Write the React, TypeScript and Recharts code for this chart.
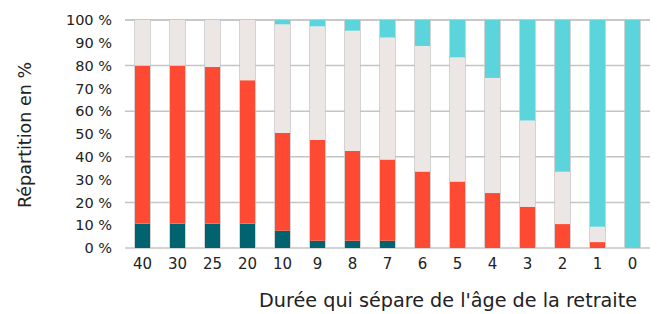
import { BarChart, Bar, XAxis, YAxis, CartesianGrid, Label } from "recharts";

const durations = ["40", "30", "25", "20", "10", "9", "8", "7", "6", "5", "4", "3", "2", "1", "0"];
const darkShare = [10.7, 10.7, 10.7, 10.7, 7.6, 3.2, 3.2, 3.2, 0, 0, 0, 0, 0, 0, 0];
const redShare = [69.3, 69.3, 68.7, 62.9, 42.9, 44.2, 39.3, 35.6, 33.6, 29.2, 24.1, 18.1, 10.5, 2.6, 0];
const greyShare = [20, 20, 20.6, 26.4, 47.6, 49.8, 52.8, 53.5, 55.0, 54.4, 50.5, 37.8, 22.9, 6.7, 0];
const cyanShare = [0, 0, 0, 0, 1.9, 2.8, 4.7, 7.7, 11.4, 16.4, 25.4, 44.1, 66.6, 90.7, 100];
const yTicks = [0, 10, 20, 30, 40, 50, 60, 70, 80, 90, 100];

const data = durations.map((d, i) => ({
  name: d,
  dark: darkShare[i],
  red: redShare[i],
  grey: greyShare[i],
  cyan: cyanShare[i],
}));

const font = "'DejaVu Sans', sans-serif";
const BAR = 15;

export default function App() {
  return (
    <div style={{ position: "absolute", left: 0, top: 0, width: 659, height: 314, background: "#fff", fontFamily: font }}>
      <BarChart width={659} height={314} data={data} margin={{ top: 20, right: 9, bottom: 0, left: 0 }} barSize={BAR}>
        <CartesianGrid
          stroke="#c4c4c4"
          strokeWidth={1.5}
          verticalCoordinatesGenerator={({ offset }: any) => {
            const band = offset.width / durations.length;
            const pts: number[] = [];
            durations.forEach((_, i) => {
              const c = offset.left + band * (i + 0.5);
              pts.push(c - BAR / 2, c + BAR / 2);
            });
            return pts;
          }}
        />
        <XAxis
          dataKey="name"
          axisLine={false}
          tickLine={false}
          height={66}
          tick={{ fill: "#222", fontSize: 15, fontFamily: font }}
          tickMargin={4}
        >
          <Label
            content={() => (
              <text x={637} y={307} textAnchor="end" fill="#222" fontSize={19.2} fontFamily={font}>
                Durée qui sépare de l'âge de la retraite
              </text>
            )}
          />
        </XAxis>
        <YAxis
          width={125}
          domain={[0, 100]}
          ticks={yTicks}
          axisLine={false}
          tickLine={false}
          tickFormatter={(v) => `${v} %`}
          tick={{ fill: "#222", fontSize: 14.5, fontFamily: font }}
          tickMargin={7}
        >
          <Label
            content={() => (
              <text x={31} y={135} textAnchor="middle" transform="rotate(-90 31 135)" fill="#222" fontSize={17.5} fontFamily={font}>
                Répartition en %
              </text>
            )}
          />
        </YAxis>
        <Bar dataKey="dark" stackId="a" fill="#00636f" isAnimationActive={false} />
        <Bar dataKey="red" stackId="a" fill="#ff4a33" isAnimationActive={false} />
        <Bar dataKey="grey" stackId="a" fill="#ece7e4" isAnimationActive={false} />
        <Bar dataKey="cyan" stackId="a" fill="#5bd4db" isAnimationActive={false} />
      </BarChart>
    </div>
  );
}
